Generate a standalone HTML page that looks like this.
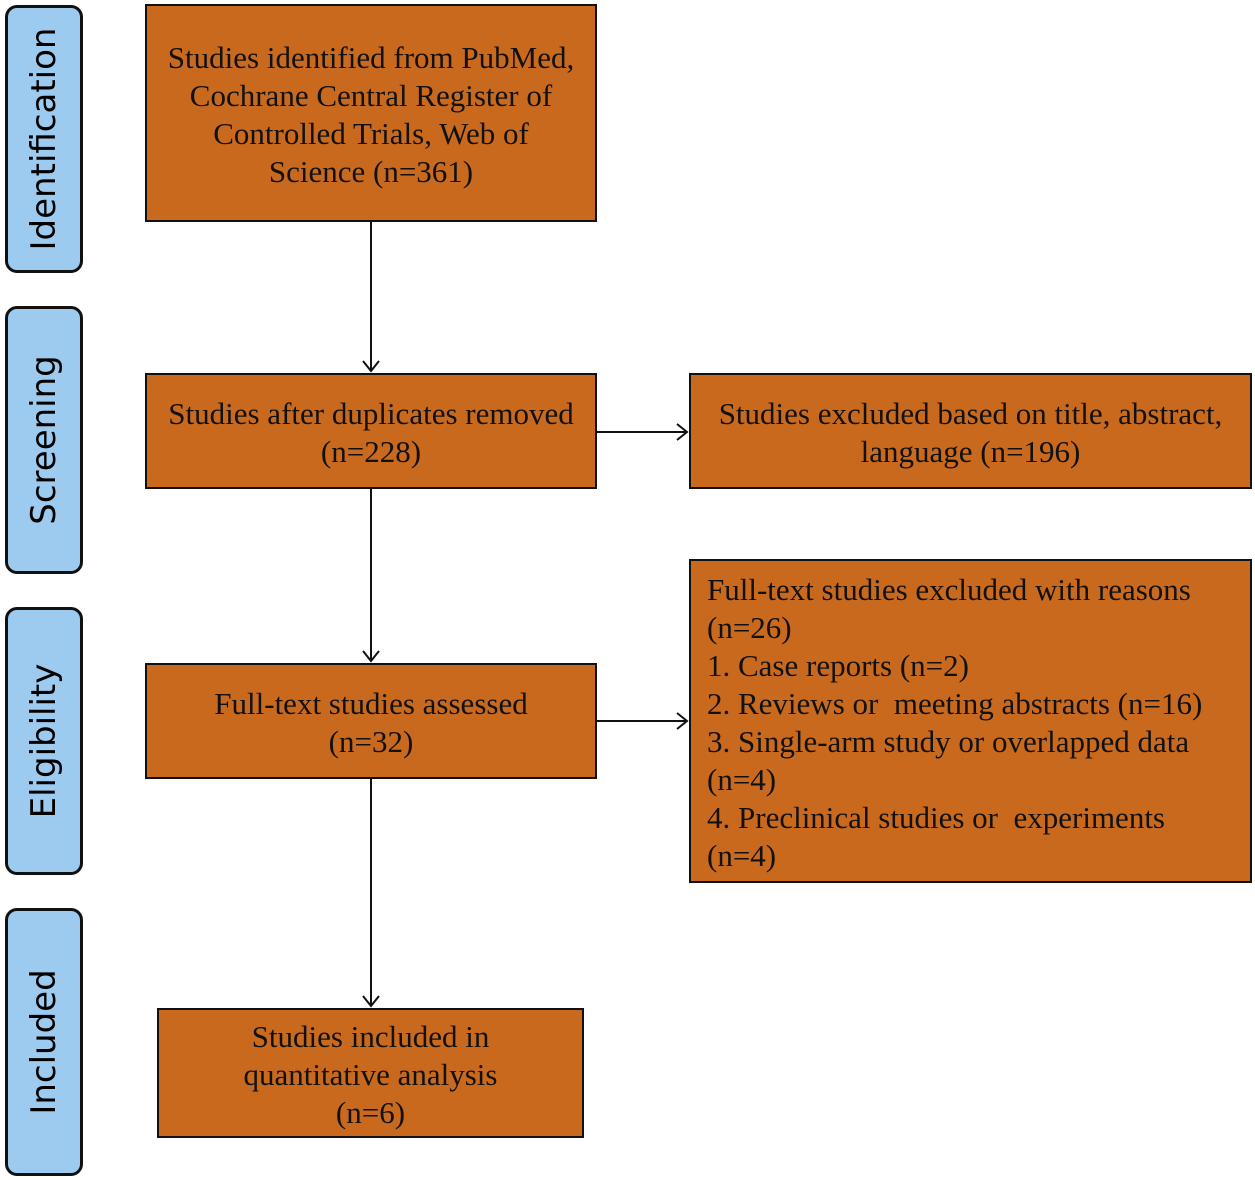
<!DOCTYPE html>
<html><head><style>
body{margin:0;width:1255px;height:1180px;background:#fff;position:relative;overflow:hidden}
.side{position:absolute;left:5px;width:72px;height:262px;background:#9DCBF0;border:3px solid #111;border-radius:12px;box-sizing:content-box}
.side span{position:absolute;left:50%;top:50%;transform:translate(-50%,-50%) rotate(-90deg);font:34px "DejaVu Sans","Liberation Sans",sans-serif;white-space:nowrap;color:#000}
.b{position:absolute;background:#C8691E;border:2px solid #111;box-sizing:border-box;font:31px/38px "Liberation Serif",serif;color:#111;display:flex;align-items:center;justify-content:center;text-align:center;white-space:nowrap}
svg{position:absolute;left:0;top:0}
</style></head><body>
<div class="side" style="top:5px"><span>Identification</span></div>
<div class="side" style="top:306px"><span>Screening</span></div>
<div class="side" style="top:607px"><span>Eligibility</span></div>
<div class="side" style="top:908px"><span>Included</span></div>

<div class="b" style="left:145px;top:4px;width:452px;height:218px;padding-top:4px">Studies identified from PubMed,<br>Cochrane Central Register of<br>Controlled Trials, Web of<br>Science (n=361)</div>
<div class="b" style="left:145px;top:373px;width:452px;height:116px;padding-top:4px">Studies after duplicates removed<br>(n=228)</div>
<div class="b" style="left:689px;top:373px;width:563px;height:116px;padding-top:4px">Studies excluded based on title, abstract,<br>language (n=196)</div>
<div class="b" style="left:145px;top:663px;width:452px;height:116px;padding-top:4px">Full-text studies assessed<br>(n=32)</div>
<div class="b" style="left:689px;top:559px;width:563px;height:324px;justify-content:flex-start;text-align:left;padding-left:16px;padding-top:4px">Full-text studies excluded with reasons<br>(n=26)<br>1. Case reports (n=2)<br>2. Reviews or &nbsp;meeting abstracts (n=16)<br>3. Single-arm study or overlapped data<br>(n=4)<br>4. Preclinical studies or &nbsp;experiments<br>(n=4)</div>
<div class="b" style="left:157px;top:1008px;width:427px;height:130px;padding-top:4px">Studies included in<br>quantitative analysis<br>(n=6)</div>

<svg width="1255" height="1180" fill="none" stroke="#111" stroke-width="2">
<line x1="371" y1="222" x2="371" y2="371"/><polyline points="363,361 371,371 379,361"/>
<line x1="371" y1="489" x2="371" y2="661"/><polyline points="363,651 371,661 379,651"/>
<line x1="371" y1="779" x2="371" y2="1006"/><polyline points="363,996 371,1006 379,996"/>
<line x1="597" y1="432" x2="687" y2="432"/><polyline points="677,424 687,432 677,440"/>
<line x1="597" y1="721" x2="687" y2="721"/><polyline points="677,713 687,721 677,729"/>
</svg>
</body></html>
